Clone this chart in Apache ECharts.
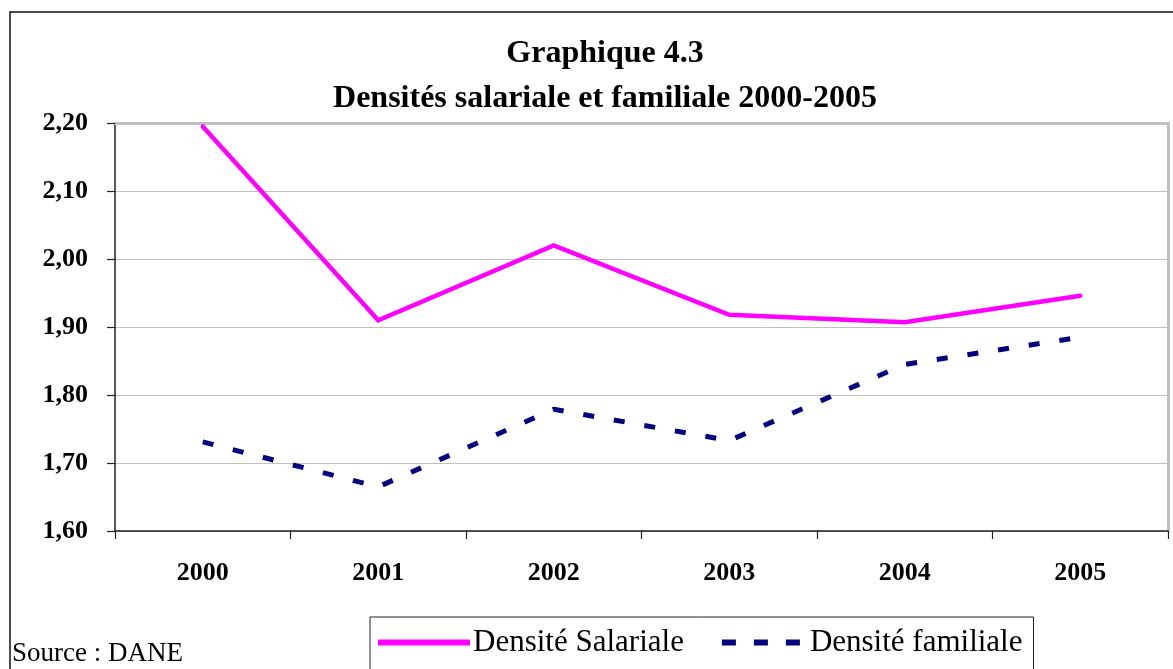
<!DOCTYPE html>
<html>
<head>
<meta charset="utf-8">
<script src="https://cdn.jsdelivr.net/npm/echarts@6/dist/echarts.min.js"></script>
<style>
  html, body { margin: 0; padding: 0; background: #fff; }
  #chart { width: 1173px; height: 669px; }
</style>
</head>
<body>
<div id="chart"></div>
<script>
// Années et séries (densités moyennes)
const years = ['2000', '2001', '2002', '2003', '2004', '2005'];
const densiteSalariale = [2.195, 1.910, 2.020, 1.918, 1.907, 1.946];
const densiteFamiliale = [1.731, 1.665, 1.779, 1.733, 1.845, 1.885];
const yTicks = { min: 1.6, max: 2.2, step: 0.1 };

const serif = '"Liberation Serif", "Times New Roman", serif';
const fmt = v => v.toFixed(2).replace('.', ',');

const chart = echarts.init(document.getElementById('chart'), null, { renderer: 'canvas' });

chart.setOption({
  backgroundColor: '#ffffff',
  animation: false,
  title: {
    text: 'Graphique 4.3\nDensités salariale et familiale 2000-2005',
    left: 600,
    top: 26,
    textAlign: 'center',
    textStyle: {
      fontFamily: serif,
      fontWeight: 'bold',
      fontSize: 32,
      lineHeight: 45,
      color: '#000'
    }
  },
  legend: {
    left: 370,
    top: 617,
    orient: 'horizontal',
    itemWidth: 92,
    itemHeight: 6,
    itemGap: 38,
    padding: [10, 11, 14, 8],
    borderColor: '#222',
    borderWidth: 1,
    textStyle: { fontFamily: serif, fontSize: 31, color: '#000', padding: [0, 0, 0, -2] },
    data: [
      { name: 'Densité Salariale', icon: 'path://M0,0 L92,0 L92,6 L0,6 Z', itemStyle: { color: '#ff00ff' } },
      { name: 'Densité familiale', icon: 'path://M0,0 L14,0 L14,6 L0,6 Z M32,0 L46,0 L46,6 L32,6 Z M64,0 L78,0 L78,6 L64,6 Z', itemStyle: { color: '#000080' } }
    ]
  },
  graphic: [
    {
      type: 'rect',
      shape: { x: 10, y: 12, width: 1200, height: 700 },
      style: { fill: 'none', stroke: '#111', lineWidth: 1.5 },
      silent: true, z: -1
    },
    {
      type: 'text',
      left: 12,
      top: 640,
      style: { text: 'Source : DANE', font: '27px ' + serif, fill: '#000' }
    }
  ],
  grid: { left: 115, right: 5, top: 123, bottom: 138, containLabel: false },
  xAxis: [
    {
      type: 'category',
      data: years,
      boundaryGap: true,
      axisLine: { lineStyle: { color: '#222', width: 1.5 } },
      axisTick: { show: true, length: 8, inside: false, alignWithLabel: false, lineStyle: { color: '#222', width: 1.2 } },
      axisLabel: { margin: 29, fontFamily: serif, fontWeight: 'bold', fontSize: 26, color: '#000' },
      splitLine: { show: false }
    },
    {
      type: 'category',
      data: years,
      position: 'top',
      axisLine: { lineStyle: { color: '#c0c0c0', width: 3 } },
      axisTick: { show: false },
      axisLabel: { show: false }
    }
  ],
  yAxis: [
    {
      type: 'value',
      min: yTicks.min,
      max: yTicks.max,
      interval: yTicks.step,
      axisLine: { show: true, lineStyle: { color: '#222', width: 1.5 } },
      axisTick: { show: true, length: 8, lineStyle: { color: '#222', width: 1.2 } },
      axisLabel: { margin: 27, fontFamily: serif, fontWeight: 'bold', fontSize: 26, color: '#000', formatter: fmt },
      splitLine: { show: true, lineStyle: { color: '#c0c0c0', width: 1.2 } }
    },
    {
      type: 'value',
      min: yTicks.min,
      max: yTicks.max,
      interval: yTicks.step,
      position: 'right',
      axisLine: { show: true, lineStyle: { color: '#c0c0c0', width: 3 } },
      axisTick: { show: false },
      axisLabel: { show: false },
      splitLine: { show: false }
    }
  ],
  series: [
    {
      name: 'Densité Salariale',
      type: 'line',
      data: densiteSalariale,
      symbol: 'none',
      lineStyle: { color: '#ff00ff', width: 4.5, cap: 'round', join: 'miter' },
      itemStyle: { color: '#ff00ff' },
      z: 3
    },
    {
      name: 'Densité familiale',
      type: 'line',
      data: densiteFamiliale,
      symbol: 'none',
      lineStyle: { color: '#000080', width: 5, type: [11, 20], cap: 'butt' },
      itemStyle: { color: '#000080' },
      z: 3
    }
  ]
});
</script>
</body>
</html>
